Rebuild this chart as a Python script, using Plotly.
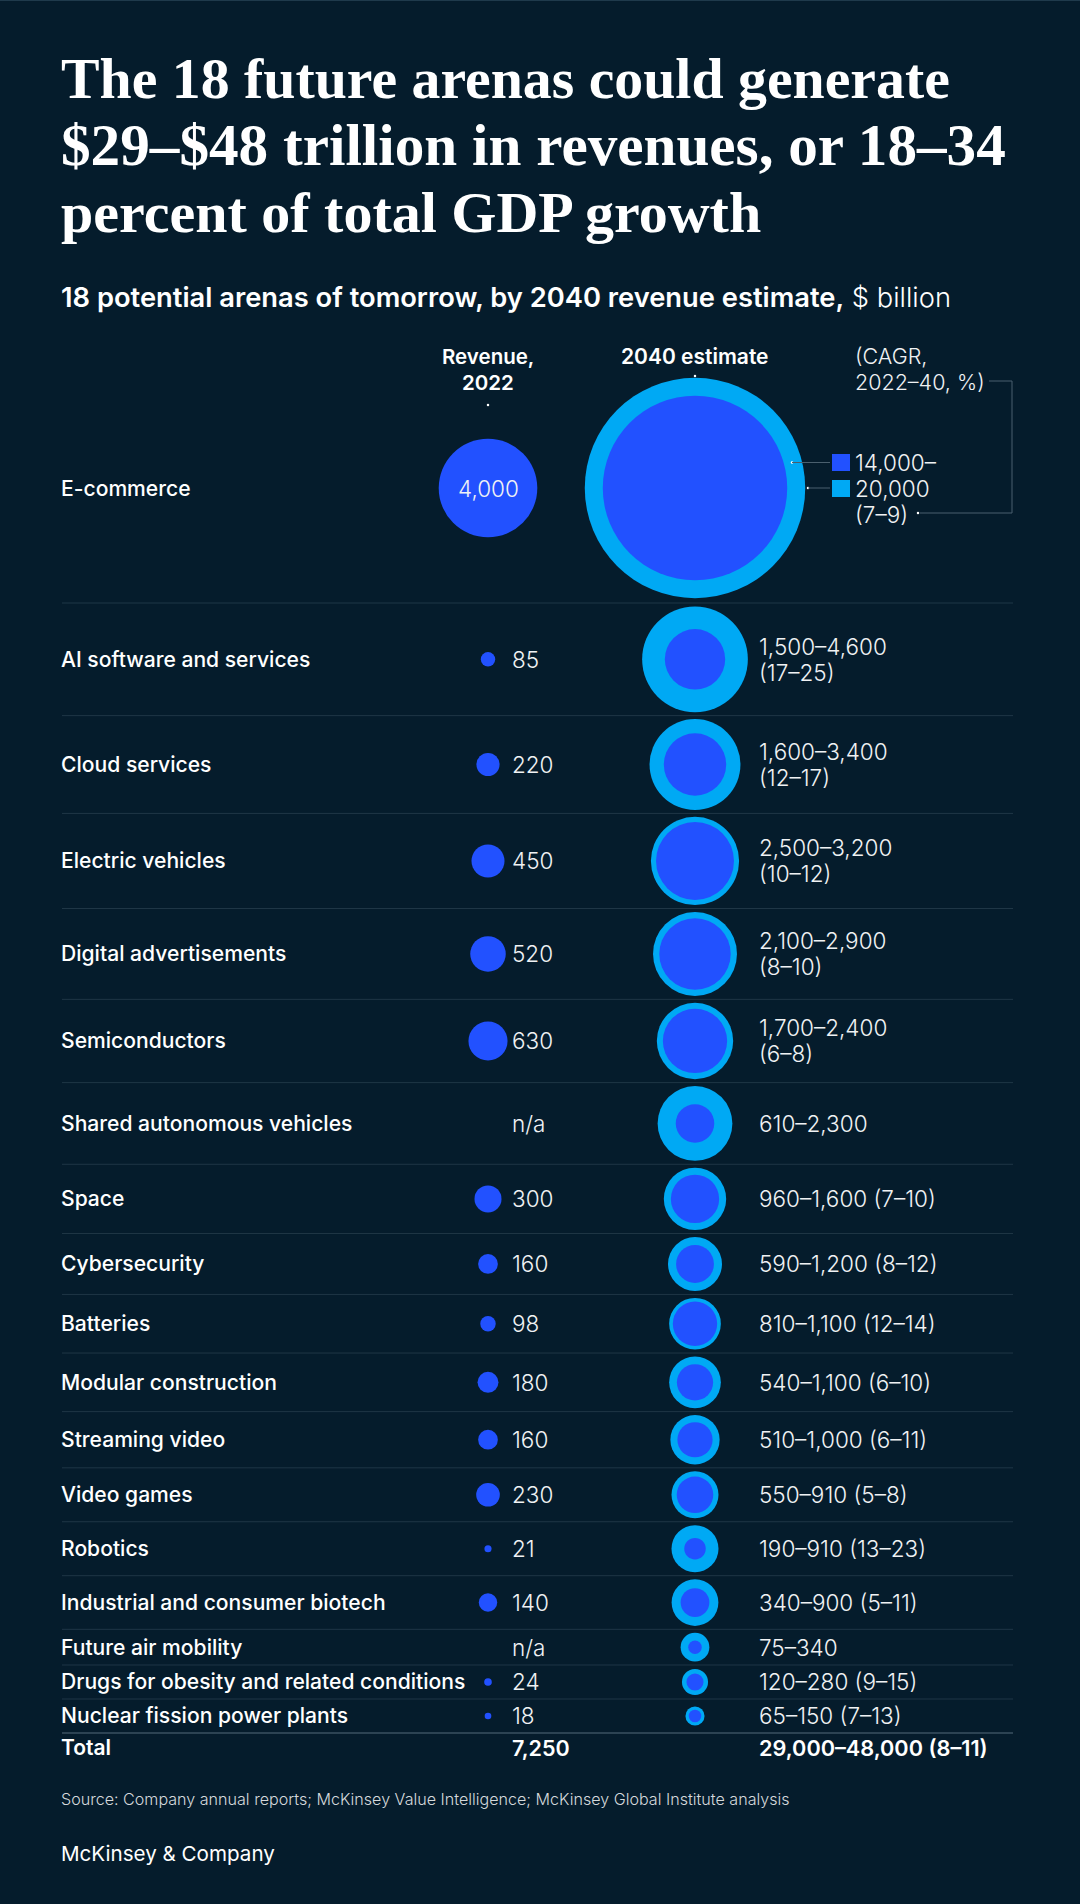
import math
import plotly.graph_objects as go

# data
arenas = ['E-commerce', 'AI software and services', 'Cloud services', 'Electric vehicles',
          'Digital advertisements', 'Semiconductors', 'Shared autonomous vehicles', 'Space',
          'Cybersecurity', 'Batteries', 'Modular construction', 'Streaming video', 'Video games',
          'Robotics', 'Industrial and consumer biotech', 'Future air mobility',
          'Drugs for obesity and related conditions', 'Nuclear fission power plants']
revenue_2022 = [4000, 85, 220, 450, 520, 630, None, 300, 160, 98, 180, 160, 230, 21, 140, None, 24, 18]
estimate_low = [14000, 1500, 1600, 2500, 2100, 1700, 610, 960, 590, 810, 540, 510, 550, 190, 340, 75, 120, 65]
estimate_high = [20000, 4600, 3400, 3200, 2900, 2400, 2300, 1600, 1200, 1100, 1100, 1000, 910, 910, 900, 340, 280, 150]
cagr = ['7–9', '17–25', '12–17', '10–12', '8–10', '6–8', None, '7–10', '8–12', '12–14', '6–10', '6–11',
        '5–8', '13–23', '5–11', None, '9–15', '7–13']
total_2022 = '7,250'
total_2040 = '29,000–48,000 (8–11)'

title_lines = ['The 18 future arenas could generate',
               '$29–$48 trillion in revenues, or 18–34',
               'percent of total GDP growth']

BG = '#051c2c'
BLUE = '#2251ff'
CYAN = '#00a9f4'
RULE = '#1f3646'
SANS = 'Inter'

# one px on the axes = one px on the page; bubble area is proportional to value
AREA = 2.43
SIZEREF = 1 / (2 * AREA / 4)
X_LABEL, X_2022, X_2022_TXT, X_2040, X_2040_TXT, X_RIGHT = 62, 488, 513, 695, 760, 1013


def diam(v):
    return math.sqrt(AREA * v)


# row heights follow the biggest bubble in each row
row_y = [488]
edges = [603]
for v in estimate_high[1:]:
    h = max(diam(v) + 6.9, 34)
    row_y.append(edges[-1] + h / 2)
    edges.append(edges[-1] + h)
total_y = edges[-1] + 15

annots = []


def txt(x, y, s, size=22.5, weight=300, color='#f0f2f4', anchor='left', family=SANS):
    # annotations sit about 3px in from their anchor
    if anchor == 'left':
        x = x - 3
    annots.append(dict(x=x, y=y, text=s, xref='x', yref='y', showarrow=False, xanchor=anchor,
                       yanchor='middle', font=dict(family=family, size=size, weight=weight, color=color)))


fig = go.Figure()

x22 = [X_2022 for v in revenue_2022 if v is not None]
y22 = [y for y, v in zip(row_y, revenue_2022) if v is not None]
v22 = [v for v in revenue_2022 if v is not None]
fig.add_trace(go.Scatter(x=x22, y=y22, mode='markers', name='Revenue, 2022',
                         marker=dict(size=v22, sizemode='area', sizeref=SIZEREF, color=BLUE, opacity=1, line_width=0)))
fig.add_trace(go.Scatter(x=[X_2040] * len(row_y), y=row_y, mode='markers', name='2040 high',
                         marker=dict(size=estimate_high, sizemode='area', sizeref=SIZEREF, color=CYAN, opacity=1, line_width=0)))
fig.add_trace(go.Scatter(x=[X_2040] * len(row_y), y=row_y, mode='markers', name='2040 low',
                         marker=dict(size=estimate_low, sizemode='area', sizeref=SIZEREF, color=BLUE, opacity=1, line_width=0)))

# rows
for i, name in enumerate(arenas):
    y = row_y[i]
    txt(X_LABEL, y, name, size=21.1, weight=500, color='white')
    if i == 0:
        txt(X_2022, y, f'{revenue_2022[i]:,}', anchor='center')
        continue
    txt(X_2022_TXT, y, 'n/a' if revenue_2022[i] is None else f'{revenue_2022[i]:,}')
    rng = f'{estimate_low[i]:,}–{estimate_high[i]:,}'
    if i <= 5:
        txt(X_2040_TXT, y - 13, rng)
        txt(X_2040_TXT, y + 13, f'({cagr[i]})')
    elif cagr[i] is None:
        txt(X_2040_TXT, y, rng)
    else:
        txt(X_2040_TXT, y, f'{rng} ({cagr[i]})')

txt(X_LABEL, total_y, 'Total', size=21, weight=600, color='white')
txt(X_2022_TXT, total_y, total_2022, size=21.5, weight=600, color='white')
txt(X_2040_TXT, total_y, total_2040, size=21.7, weight=600, color='white')

# header
for y, line, sz in zip([78, 145, 212], title_lines, [57.8, 59.2, 58]):
    txt(62, y, line, size=sz, weight=700, color='white', family='Liberation Serif')
txt(62, 297, '<span style="font-weight:600">18 potential arenas of tomorrow, by 2040 revenue estimate,</span> $ billion',
    size=27.3, weight=300, color='white')
txt(X_2022, 356, 'Revenue,', size=20.5, weight=600, color='white', anchor='center')
txt(X_2022, 382, '2022', size=20.5, weight=600, color='white', anchor='center')
txt(X_2040, 356, '2040 estimate', size=21, weight=600, color='white', anchor='center')
txt(856, 356, '(CAGR,', size=21.5)
txt(856, 382, '2022–40, %)', size=21.5)
txt(856, 462, '14,000–')
txt(856, 488, '20,000')
txt(856, 514, '(7–9)')

# footer
txt(62, 1799, 'Source: Company annual reports; McKinsey Value Intelligence; McKinsey Global Institute analysis',
    size=16.1, weight=300, color='#d5d9dc')
txt(62, 1853, 'McKinsey & Company', size=20.6, weight=400, color='white')

shapes = []
for e in edges[:-1]:
    shapes.append(dict(type='line', x0=X_LABEL, x1=X_RIGHT, y0=e, y1=e, line=dict(color=RULE, width=1)))
shapes.append(dict(type='line', x0=X_LABEL, x1=X_RIGHT, y0=edges[-1], y1=edges[-1], line=dict(color='#3a5060', width=1.5)))
# legend keys and leader lines
shapes.append(dict(type='rect', x0=832, x1=850, y0=454, y1=471, fillcolor=BLUE, line_width=0))
shapes.append(dict(type='rect', x0=832, x1=850, y0=480, y1=497, fillcolor=CYAN, line_width=0))
shapes.append(dict(type='path', path='M 989 381 L 1012 381 L 1012 513 L 920 513', line=dict(color='#4a5f6e', width=1)))
shapes.append(dict(type='line', x0=792, x1=830, y0=462.5, y1=462.5, line=dict(color='#4a5f6e', width=1)))
shapes.append(dict(type='line', x0=808, x1=830, y0=488, y1=488, line=dict(color='#4a5f6e', width=1)))
shapes.append(dict(type='line', x0=0, x1=1080, y0=0.5, y1=0.5, line=dict(color='#1f3a4c', width=1)))

# tiny dots at the ends of the leaders
fig.add_trace(go.Scatter(x=[488, 695, 792, 808, 918], y=[405, 376, 462.5, 488, 513], mode='markers',
                         marker=dict(size=2.5, color='white', opacity=1, line_width=0)))

fig.update_layout(width=1080, height=1904, margin=dict(l=0, r=0, t=0, b=0), showlegend=False,
                  paper_bgcolor=BG, plot_bgcolor=BG, annotations=annots, shapes=shapes, hovermode=False)
fig.update_xaxes(range=[0, 1080], visible=False, fixedrange=True)
fig.update_yaxes(range=[1904, 0], visible=False, fixedrange=True)

fig.write_html("out.html", config={'displayModeBar': False},
               post_script="document.body.style.margin='0';document.body.style.background='#051c2c';")
